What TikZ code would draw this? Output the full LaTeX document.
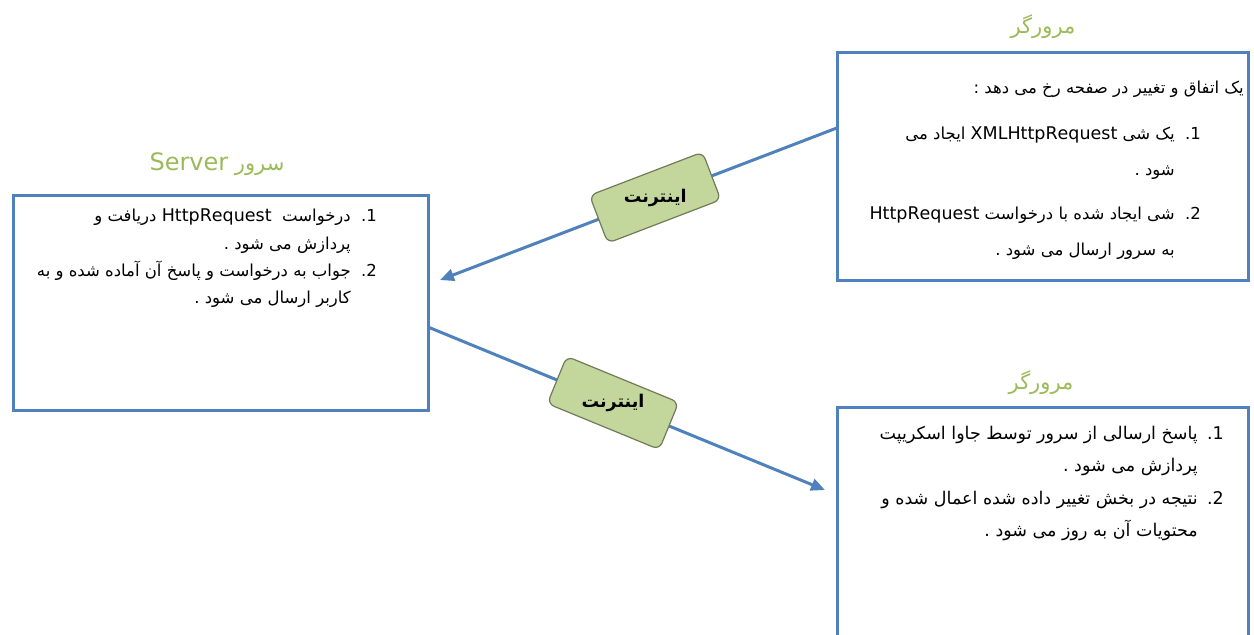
\documentclass[tikz,border=0pt]{standalone}
\usepackage{fontspec}
\setmainfont{DejaVu Sans}
\newfontfamily\fa[Script=Arabic]{DejaVu Sans}
\usetikzlibrary{positioning,arrows.meta,calc}
\TeXXeTstate=1
\definecolor{boxblue}{HTML}{4F81BD}
\definecolor{titlegreen}{HTML}{9BBB59}
\definecolor{netgreen}{HTML}{C3D69B}
\definecolor{netedge}{HTML}{6F7B5A}
\newcommand{\rtl}[1]{\beginR #1\endR}
\newcommand{\ltr}[1]{\beginL{\fontsize{17.5}{20}\selectfont #1}\endL{}}
\newcommand{\itemno}[1]{\makebox[26pt][r]{#1}}

\begin{document}
\begin{tikzpicture}[x=1pt,y=1pt,
    panel/.style={draw=boxblue, line width=3pt, outer sep=0pt, minimum width=411pt, anchor=north west},
    caption/.style={text=titlegreen, font=\fa\fontsize{21}{24}\selectfont},
    body/.style={anchor=north east, align=right, inner sep=0pt, font=\fa\fontsize{16.5}{#1}\selectfont},
    net/.style={draw=netedge, line width=1.2pt, fill=netgreen, rounded corners=7pt, minimum width=121pt, minimum height=51pt, sloped},
    nettext/.style={font=\fa\bfseries\fontsize{17.5}{20}\selectfont},
    link/.style={draw=boxblue, line width=3pt, -{Triangle[length=14pt,width=12pt]}}]
    \clip (0,0) rectangle (1254,-635);

    % boxes
    \node[panel, minimum width=415pt, minimum height=215pt] (server) at (13,-195) {};
    \node[panel, minimum height=228pt] (browserA) at (837,-52) {};
    \node[panel, minimum height=260pt] (browserB) at (837,-407) {};

    % titles
    \node[caption] (serverT) at (217,-164) {\rtl{سرور \beginL{\fontsize{24}{28}\selectfont Server}\endL}};
    \node[caption] (browserAT) at (1043,-27) {\rtl{مرورگر}};
    \node[caption] (browserBT) at (1041,-383) {\rtl{مرورگر}};

    % texts
    \node[body=27.3] (serverTxt) at (377,-209) {%
        \rtl{درخواست \ \ltr{HttpRequest} دریافت و}\itemno{1.}\\
        \rtl{پردازش می شود .}\itemno{}\\
        \rtl{جواب به درخواست و پاسخ آن آماده شده و به}\itemno{2.}\\
        \rtl{کاربر ارسال می شود .}\itemno{}};
    \node[body=20, anchor=east] (browserAHead) at (1244,-89) {\rtl{یک اتفاق و تغییر در صفحه رخ می دهد :}};
    \node[body=36] (browserATxt) at (1201,-127) {%
        \rtl{یک شی \ltr{XMLHttpRequest} ایجاد می}\itemno{1.}\\
        \rtl{شود .}\itemno{}\\[8pt]
        \rtl{شی ایجاد شده با درخواست \ltr{HttpRequest}}\itemno{2.}\\
        \rtl{به سرور ارسال می شود .}\itemno{}};
    \node[body=32.3, font=\fa\fontsize{17.5}{32.3}\selectfont] (browserBTxt) at (1224,-426) {%
        \rtl{پاسخ ارسالی از سرور توسط جاوا اسکریپت}\itemno{1.}\\
        \rtl{پردازش می شود .}\itemno{}\\
        \rtl{نتیجه در بخش تغییر داده شده اعمال شده و}\itemno{2.}\\
        \rtl{محتویات آن به روز می شود .}\itemno{}};

    % connectors
    \coordinate (outA) at ($(browserA.north west)!0.333!(browserA.south west)$);
    \coordinate (inS) at (440,-280);
    \coordinate (outS) at ($(server.north east)!0.614!(server.south east)$);
    \coordinate (inB) at (825,-490);
    \draw[link] (outA) -- node[net, pos=0.458] (net1) {} (inS);
    \draw[link] (outS) -- node[net, pos=0.466] (net2) {} (inB);
    \node[nettext] (net1txt) at (net1) {\rtl{اینترنت}};
    \node[nettext] (net2txt) at (net2) {\rtl{اینترنت}};
\end{tikzpicture}
\end{document}
